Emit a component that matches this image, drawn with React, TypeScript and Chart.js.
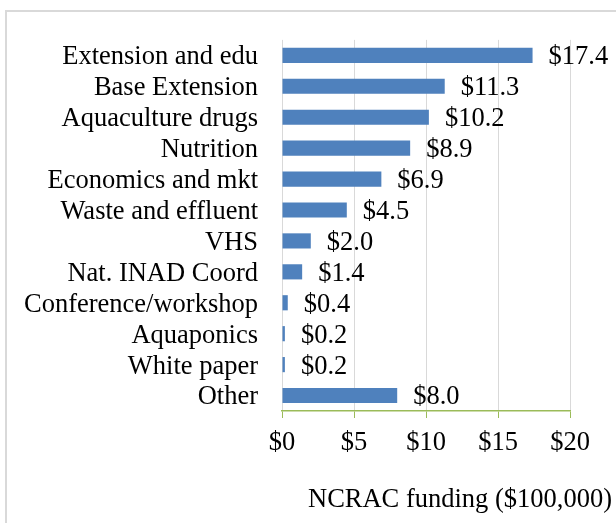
import React, { useEffect, useRef } from "react";
import { Chart, registerables } from "chart.js";

Chart.register(...registerables);

const categories = [
  "Extension and edu",
  "Base Extension",
  "Aquaculture drugs",
  "Nutrition",
  "Economics and mkt",
  "Waste and effluent",
  "VHS",
  "Nat. INAD Coord",
  "Conference/workshop",
  "Aquaponics",
  "White paper",
  "Other",
];
const funding = [17.4, 11.3, 10.2, 8.9, 6.9, 4.5, 2.0, 1.4, 0.4, 0.2, 0.2, 8.0];
const xMin = 0;
const xMax = 20;
const xStep = 5;
const axisTitle = "NCRAC funding ($100,000)";

const FONT_FAMILY = "'Liberation Serif', 'Times New Roman', serif";
const FONT_SIZE = 26.5;

export default function App() {
  const ref = useRef<HTMLCanvasElement | null>(null);

  useEffect(() => {
    const canvas = ref.current;
    if (!canvas) return;

    const frame = {
      id: "frame",
      beforeDraw(chart: any) {
        const ctx = chart.ctx;
        ctx.save();
        ctx.fillStyle = "#ffffff";
        ctx.fillRect(0, 0, chart.width, chart.height);
        ctx.strokeStyle = "#d9d9d9";
        ctx.lineWidth = 2;
        ctx.beginPath();
        ctx.moveTo(6, chart.height + 2);
        ctx.lineTo(6, 11);
        ctx.lineTo(chart.width + 2, 11);
        ctx.stroke();
        ctx.restore();
      },
    };

    const valueLabels = {
      id: "valueLabels",
      afterDatasetsDraw(chart: any) {
        const ctx = chart.ctx;
        const meta = chart.getDatasetMeta(0);
        ctx.save();
        ctx.font = `${FONT_SIZE}px ${FONT_FAMILY}`;
        ctx.fillStyle = "#000000";
        ctx.textAlign = "left";
        ctx.textBaseline = "middle";
        meta.data.forEach((bar: any, i: number) => {
          ctx.fillText("$" + funding[i].toFixed(1), bar.x + 16, bar.y + 2);
        });
        ctx.restore();
      },
    };

    const axisTitlePlugin = {
      id: "axisTitleRight",
      afterDraw(chart: any) {
        const ctx = chart.ctx;
        ctx.save();
        ctx.font = `${FONT_SIZE}px ${FONT_FAMILY}`;
        ctx.fillStyle = "#000000";
        ctx.textAlign = "right";
        ctx.textBaseline = "middle";
        ctx.fillText(axisTitle, chart.width - 4, chart.chartArea.bottom + 89);
        ctx.restore();
      },
    };

    const font = { family: FONT_FAMILY, size: FONT_SIZE };

    const chart = new Chart(canvas, {
      type: "bar",
      data: {
        labels: categories,
        datasets: [
          {
            data: funding,
            backgroundColor: "#4f81bd",
            borderWidth: 0,
            barPercentage: 1,
            categoryPercentage: 0.49,
          },
        ],
      },
      options: {
        indexAxis: "y",
        responsive: false,
        animation: false,
        devicePixelRatio: 1,
        layout: { padding: { left: 0, right: 46, top: 39, bottom: 0 } },
        plugins: {
          legend: { display: false },
          tooltip: { enabled: false },
        },
        scales: {
          x: {
            min: xMin,
            max: xMax,
            ticks: {
              stepSize: xStep,
              font,
              color: "#000000",
              padding: 9,
              maxRotation: 0,
              callback: (v: any) => "$" + v,
            },
            grid: {
              color: "#d9d9d9",
              tickColor: "#9bbb59",
              tickLength: 7,
              lineWidth: 1,
            },
            border: { color: "#9bbb59", width: 1.5 },
            afterFit: (s: any) => {
              s.height = 112;
            },
          },
          y: {
            ticks: {
              font,
              color: "#000000",
              padding: 24,
              autoSkip: false,
              labelOffset: 2,
            },
            grid: { display: false, drawTicks: false },
            border: { display: false },
            afterFit: (s: any) => {
              s.width = 282;
            },
          },
        },
      },
      plugins: [frame, valueLabels, axisTitlePlugin],
    } as any);

    return () => chart.destroy();
  }, []);

  return (
    <canvas
      ref={ref}
      width={616}
      height={523}
      style={{ position: "fixed", left: 0, top: 0, width: 616, height: 523 }}
    />
  );
}
